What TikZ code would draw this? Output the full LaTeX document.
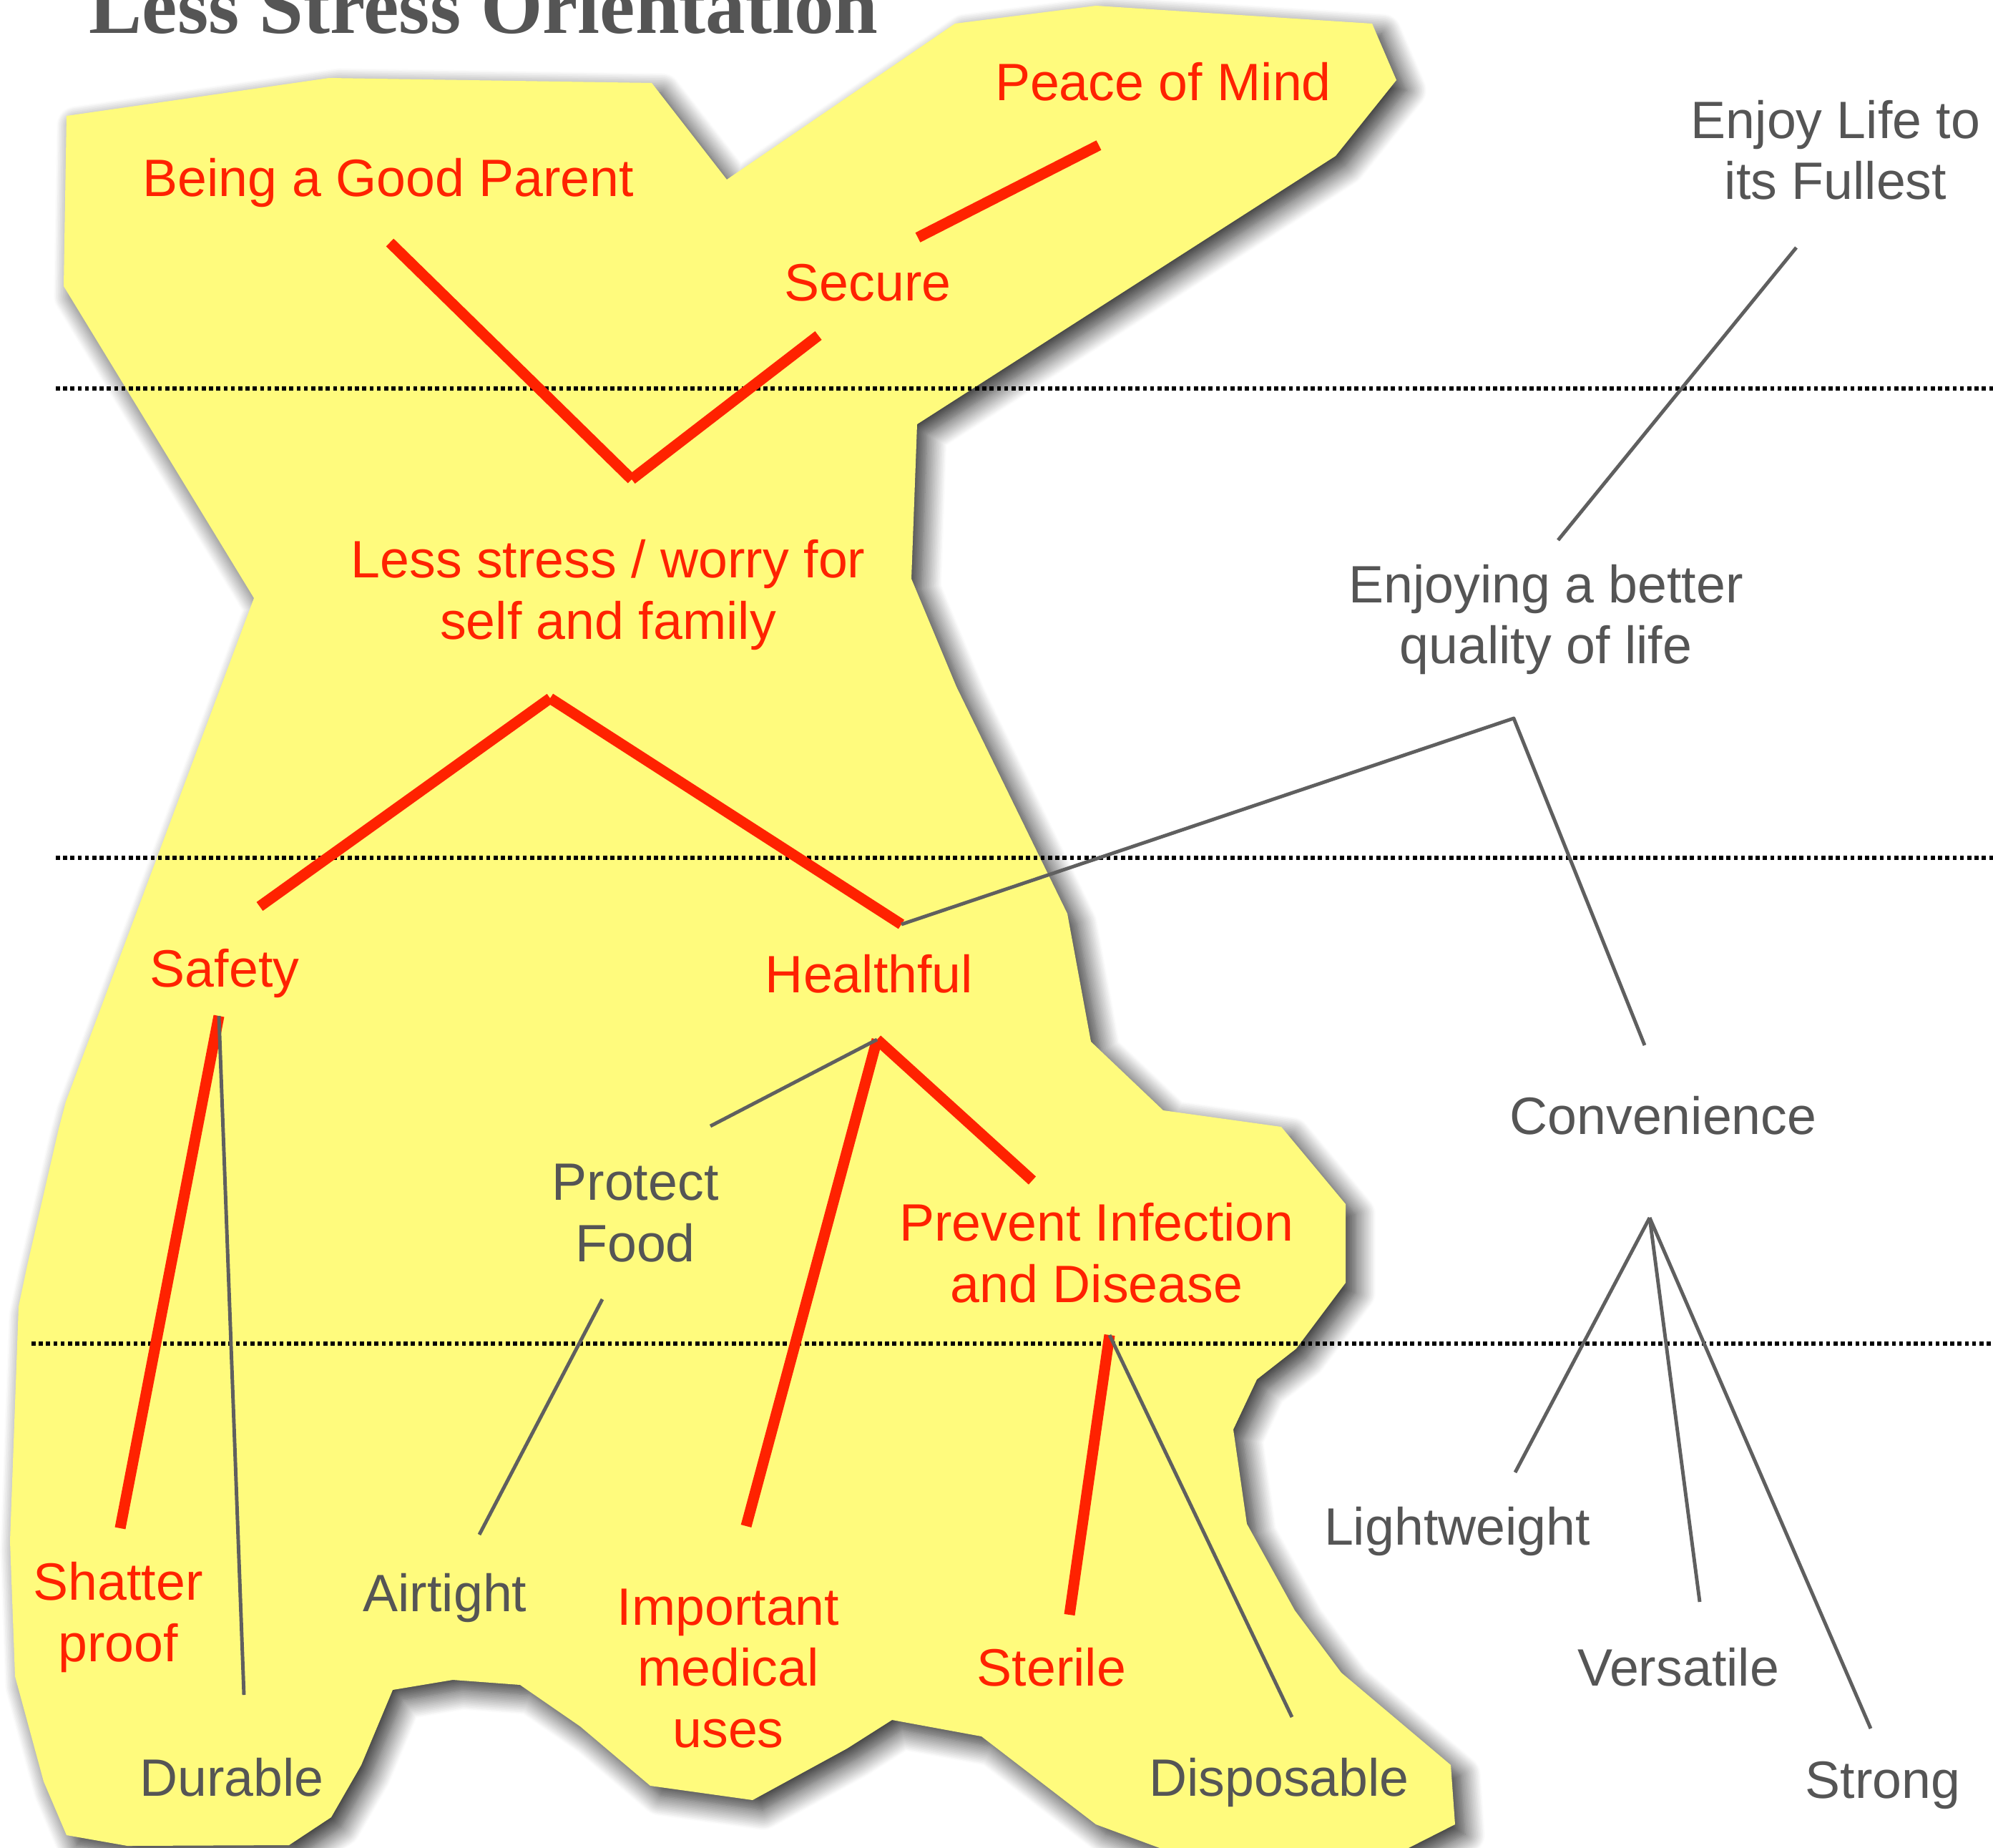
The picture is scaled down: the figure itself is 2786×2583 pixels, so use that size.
\documentclass[tikz,border=0pt]{standalone}
\usepackage{fontspec}
\setmainfont{Liberation Sans}
\newfontfamily\titlefont{Liberation Serif}
\usetikzlibrary{shadows.blur}

\definecolor{notered}{RGB}{255,34,0}
\definecolor{notegray}{RGB}{85,85,85}
\definecolor{linkgraycol}{RGB}{95,95,95}
\definecolor{noteyellow}{RGB}{255,251,125}

\begin{document}
\begin{tikzpicture}[x=0.01cm, y=-0.01cm, line join=round,
    redtxt/.style={text=notered, font=\fontsize{20.9}{24.2}\selectfont,
                   align=center, anchor=base, inner sep=0pt},
    graytxt/.style={redtxt, text=notegray},
    linkred/.style={draw=notered, line width=4.3pt},
    linkgray/.style={draw=linkgraycol, line width=1.4pt},
    bandline/.style={draw=black, line width=1.6pt, dash pattern=on 1.6pt off 1.3pt}]
  \useasboundingbox (0,0) rectangle (2786,2583);

  % Yellow area (the chain that is followed), with its shadow
  \fill[noteyellow, blur shadow={shadow xshift=0.14cm, shadow yshift=-0.14cm,
        shadow blur radius=0.28cm, shadow blur steps=20, shadow opacity=85}]
    (93,162) -- (460,109) -- (911,116) -- (1016,251) -- (1335,33) -- (1532,8)
    -- (1918,33) -- (1952,112) -- (1867,218) -- (1282,593) -- (1274,809)
    -- (1337,960) -- (1492,1277) -- (1525,1456) -- (1626,1552) -- (1791,1575)
    -- (1881,1683) -- (1881,1793) -- (1812,1885) -- (1757,1928) -- (1724,1998)
    -- (1743,2130) -- (1810,2251) -- (1875,2338) -- (2028,2467) -- (2034,2550)
    -- (1955,2590) -- (1640,2590) -- (1532,2550) -- (1372,2427) -- (1247,2404)
    -- (1184,2444) -- (1052,2516) -- (909,2496) -- (811,2413) -- (727,2355)
    -- (633,2348) -- (549,2362) -- (505,2467) -- (463,2540) -- (404,2579)
    -- (178,2580) -- (93,2565) -- (61,2490) -- (21,2343) -- (14,2154)
    -- (26,1826) -- (38,1769) -- (82,1578) -- (92,1540) -- (355,836)
    -- (89,400) -- cycle;

  % Level separators
  \draw[bandline] (78,543) -- (2786,543);
  \draw[bandline] (78,1199) -- (2786,1199);
  \draw[bandline] (44,1878) -- (2786,1878);

  % Title
  \node[font=\titlefont\bfseries\fontsize{31.6}{36}\selectfont, text=notegray,
        anchor=base west, inner sep=0pt] (title) at (124,47) {Less Stress Orientation};

  % Labels (base = baseline of the last line)
  \node[redtxt]  (peace)    at (1626,141)  {Peace of Mind};
  \node[redtxt]  (parent)   at (543,275)   {Being a Good Parent};
  \node[redtxt]  (secure)   at (1213,421)  {Secure};
  \node[redtxt]  (stress)   at (850,893)   {Less stress / worry for\\self and family};
  \node[redtxt]  (safety)   at (314,1379)  {Safety};
  \node[redtxt]  (health)   at (1215,1387) {Healthful};
  \node[graytxt] (protect)  at (888,1763)  {Protect\\Food};
  \node[redtxt]  (prevent)  at (1533,1820) {Prevent Infection\\and Disease};
  \node[redtxt]  (shatter)  at (165,2322)  {Shatter\\proof};
  \node[graytxt] (durable)  at (324,2510)  {Durable};
  \node[graytxt] (airtight) at (622,2252)  {Airtight};
  \node[redtxt]  (medical)  at (1018,2442) {Important\\medical\\uses};
  \node[redtxt]  (sterile)  at (1470,2356) {Sterile};
  \node[graytxt] (dispos)   at (1788,2510) {Disposable};
  \node[graytxt] (enjoy)    at (2566,279)  {Enjoy Life to\\its Fullest};
  \node[graytxt] (quality)  at (2161,928)  {Enjoying a better\\quality of life};
  \node[graytxt] (conv)     at (2325,1585) {Convenience};
  \node[graytxt] (light)    at (2037,2159) {Lightweight};
  \node[graytxt] (versa)    at (2346,2356) {Versatile};
  \node[graytxt] (strong)   at (2632,2513) {Strong};

  % Link ends
  \coordinate (peace-s)    at (1536,203);
  \coordinate (secure-n)   at (1283,332);
  \coordinate (secure-s)   at (1144,469);
  \coordinate (parent-s)   at (545,339);
  \coordinate (stress-n)   at (883,670);
  \coordinate (stress-s)   at (769,976);
  \coordinate (safety-n)   at (363,1267);
  \coordinate (health-n)   at (1260,1292);
  \coordinate (safety-s)   at (306,1420);
  \coordinate (shatter-n)  at (168,2136);
  \coordinate (durable-n)  at (341,2369);
  \coordinate (health-s)   at (1226,1453);
  \coordinate (medical-n)  at (1043,2133);
  \coordinate (prevent-n)  at (1443,1650);
  \coordinate (protect-n)  at (993,1574);
  \coordinate (protect-s)  at (842,1816);
  \coordinate (airtight-n) at (670,2145);
  \coordinate (prevent-s)  at (1551,1866);
  \coordinate (sterile-n)  at (1495,2257);
  \coordinate (dispos-n)   at (1806,2400);
  \coordinate (quality-s)  at (2116,1004);
  \coordinate (quality-n)  at (2178,755);
  \coordinate (enjoy-s)    at (2511,346);
  \coordinate (conv-n)     at (2299,1461);
  \coordinate (conv-s)     at (2306,1702);
  \coordinate (light-n)    at (2118,2058);
  \coordinate (versa-n)    at (2376,2239);
  \coordinate (strong-n)   at (2615,2416);

  % Followed chain (red)
  \draw[linkred] (secure-n) -- (peace-s);
  \draw[linkred] (stress-n) -- (parent-s);
  \draw[linkred] (stress-n) -- (secure-s);
  \draw[linkred] (stress-s) -- (safety-n);
  \draw[linkred] (stress-s) -- (health-n);
  \draw[linkred] (safety-s) -- (shatter-n);
  \draw[linkred] (health-s) -- (medical-n);
  \draw[linkred] (health-s) -- (prevent-n);
  \draw[linkred] (prevent-s) -- (sterile-n);

  % Other links (gray)
  \draw[linkgray] (safety-s) -- (durable-n);
  \draw[linkgray] (health-s) -- (protect-n);
  \draw[linkgray] (protect-s) -- (airtight-n);
  \draw[linkgray] (prevent-s) -- (dispos-n);
  \draw[linkgray] (health-n) -- (quality-s) -- (conv-n);
  \draw[linkgray] (quality-n) -- (enjoy-s);
  \foreach \p in {light-n, versa-n, strong-n} \draw[linkgray] (conv-s) -- (\p);
\end{tikzpicture}
\end{document}
